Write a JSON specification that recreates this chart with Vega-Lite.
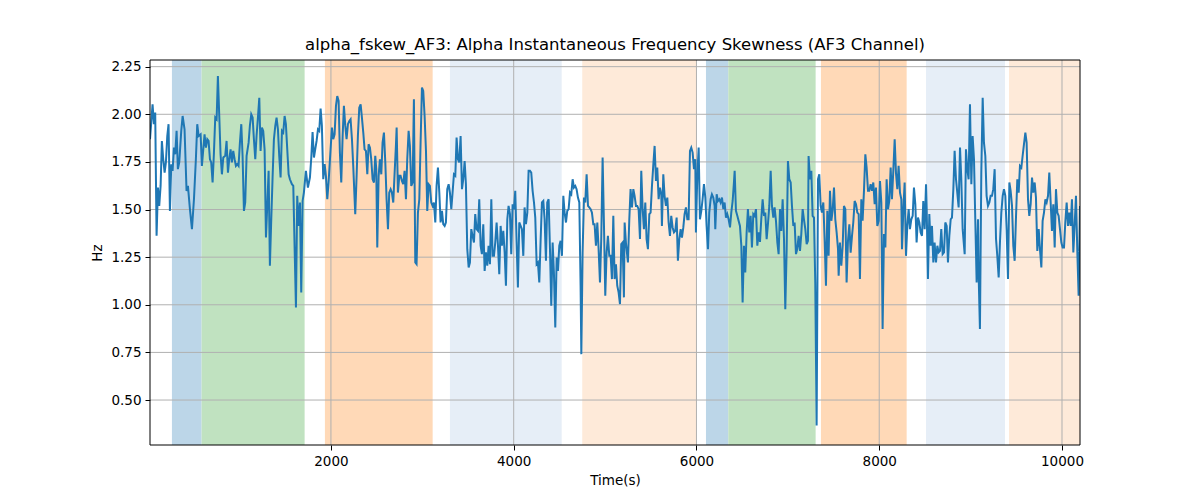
{
  "$schema": "https://vega.github.io/schema/vega-lite/v6.json",
  "width": 930,
  "height": 385,
  "autosize": "none",
  "padding": {"left": 150, "top": 60, "right": 120, "bottom": 55},
  "title": {
    "text": "alpha_fskew_AF3: Alpha Instantaneous Frequency Skewness (AF3 Channel)",
    "fontSize": 16.5,
    "fontWeight": "normal",
    "font": "DejaVu Sans",
    "color": "black",
    "offset": 6
  },
  "config": {
    "view": {"stroke": null},
    "axis": {
      "domain": false,
      "grid": false,
      "ticks": true,
      "tickColor": "black",
      "tickSize": 5,
      "tickWidth": 1,
      "labelFont": "DejaVu Sans",
      "labelFontSize": 13.5,
      "labelColor": "black",
      "labelPadding": 4,
      "titleFont": "DejaVu Sans",
      "titleFontSize": 13.5,
      "titleFontWeight": "normal",
      "titleColor": "black"
    }
  },
  "datasets": {
    "spans": [
      {"start": 260, "end": 585, "kind": "a"},
      {"start": 585, "end": 1712, "kind": "b"},
      {"start": 1934, "end": 3113, "kind": "c"},
      {"start": 3302, "end": 4525, "kind": "d"},
      {"start": 4750, "end": 6002, "kind": "e"},
      {"start": 6104, "end": 6348, "kind": "a"},
      {"start": 6348, "end": 7304, "kind": "b"},
      {"start": 7362, "end": 8300, "kind": "c"},
      {"start": 8512, "end": 9376, "kind": "d"},
      {"start": 9420, "end": 10197, "kind": "e"}
    ],
    "xgrid": [{"t": 2000}, {"t": 4000}, {"t": 6000}, {"t": 8000}, {"t": 10000}],
    "ygrid": [{"v": 0.5}, {"v": 0.75}, {"v": 1.0}, {"v": 1.25}, {"v": 1.5}, {"v": 1.75}, {"v": 2.0}, {"v": 2.25}],
    "series": [
      {"t":20,"v":1.869},{"t":48,"v":2.052},{"t":63,"v":1.948},{"t":77,"v":2.009},{"t":92,"v":1.362},{"t":107,"v":1.615},{"t":121,"v":1.519},{"t":136,"v":1.624},{"t":150,"v":1.860},{"t":165,"v":1.764},{"t":180,"v":1.694},{"t":194,"v":1.747},{"t":209,"v":1.886},{"t":223,"v":1.948},{"t":238,"v":1.493},{"t":253,"v":1.738},{"t":267,"v":1.703},{"t":282,"v":1.825},{"t":296,"v":1.790},{"t":311,"v":1.913},{"t":325,"v":1.712},{"t":340,"v":1.747},{"t":362,"v":1.913},{"t":377,"v":1.991},{"t":398,"v":1.921},{"t":420,"v":1.598},{"t":435,"v":1.624},{"t":457,"v":1.502},{"t":479,"v":1.397},{"t":501,"v":1.554},{"t":522,"v":1.764},{"t":537,"v":1.948},{"t":552,"v":1.886},{"t":574,"v":1.895},{"t":588,"v":1.729},{"t":603,"v":1.816},{"t":617,"v":1.895},{"t":632,"v":1.825},{"t":647,"v":1.869},{"t":661,"v":1.860},{"t":676,"v":1.764},{"t":690,"v":1.747},{"t":705,"v":1.642},{"t":719,"v":1.790},{"t":734,"v":1.983},{"t":749,"v":1.974},{"t":763,"v":2.201},{"t":778,"v":1.991},{"t":792,"v":1.790},{"t":807,"v":1.685},{"t":822,"v":1.773},{"t":843,"v":1.782},{"t":858,"v":1.860},{"t":873,"v":1.694},{"t":887,"v":1.764},{"t":902,"v":1.816},{"t":916,"v":1.747},{"t":931,"v":1.808},{"t":946,"v":1.764},{"t":960,"v":1.729},{"t":975,"v":1.738},{"t":989,"v":1.729},{"t":1004,"v":1.851},{"t":1019,"v":1.948},{"t":1033,"v":1.782},{"t":1048,"v":1.493},{"t":1062,"v":1.537},{"t":1077,"v":1.782},{"t":1099,"v":1.851},{"t":1113,"v":1.939},{"t":1128,"v":2.000},{"t":1143,"v":1.983},{"t":1157,"v":1.869},{"t":1172,"v":1.764},{"t":1186,"v":1.886},{"t":1201,"v":1.983},{"t":1216,"v":2.087},{"t":1230,"v":1.808},{"t":1245,"v":1.930},{"t":1259,"v":1.913},{"t":1274,"v":1.816},{"t":1289,"v":1.353},{"t":1303,"v":1.519},{"t":1318,"v":1.703},{"t":1332,"v":1.205},{"t":1347,"v":1.449},{"t":1362,"v":1.677},{"t":1376,"v":1.869},{"t":1391,"v":1.939},{"t":1405,"v":1.983},{"t":1420,"v":1.921},{"t":1434,"v":1.782},{"t":1449,"v":1.668},{"t":1464,"v":1.913},{"t":1478,"v":1.904},{"t":1493,"v":1.991},{"t":1507,"v":1.948},{"t":1522,"v":1.816},{"t":1537,"v":1.685},{"t":1551,"v":1.659},{"t":1573,"v":1.633},{"t":1588,"v":1.624},{"t":1602,"v":1.310},{"t":1617,"v":0.986},{"t":1631,"v":1.572},{"t":1646,"v":1.414},{"t":1661,"v":1.537},{"t":1675,"v":1.065},{"t":1690,"v":1.545},{"t":1704,"v":1.589},{"t":1726,"v":1.703},{"t":1748,"v":1.615},
      {"t":1770,"v":1.668},{"t":1785,"v":1.773},{"t":1799,"v":1.907},{"t":1814,"v":1.773},{"t":1828,"v":1.816},{"t":1843,"v":1.860},{"t":1858,"v":1.921},{"t":1872,"v":1.913},{"t":1887,"v":2.030},{"t":1901,"v":1.939},{"t":1916,"v":1.659},{"t":1931,"v":1.738},{"t":1945,"v":1.677},{"t":1960,"v":1.554},{"t":1974,"v":1.642},{"t":1996,"v":1.816},{"t":2011,"v":1.930},{"t":2025,"v":1.869},{"t":2040,"v":1.895},{"t":2055,"v":2.044},{"t":2069,"v":2.096},{"t":2084,"v":2.070},{"t":2098,"v":1.799},{"t":2113,"v":1.642},{"t":2128,"v":1.886},{"t":2142,"v":2.044},{"t":2157,"v":1.939},{"t":2171,"v":1.869},{"t":2186,"v":1.948},{"t":2201,"v":1.965},{"t":2215,"v":1.974},{"t":2230,"v":1.869},{"t":2244,"v":1.729},{"t":2266,"v":1.476},{"t":2281,"v":1.677},{"t":2295,"v":1.886},{"t":2310,"v":2.035},{"t":2325,"v":2.052},{"t":2339,"v":1.983},{"t":2354,"v":1.904},{"t":2368,"v":1.816},{"t":2383,"v":1.808},{"t":2398,"v":1.685},{"t":2412,"v":1.843},{"t":2427,"v":1.825},{"t":2441,"v":1.764},{"t":2456,"v":1.659},{"t":2471,"v":1.642},{"t":2485,"v":1.782},{"t":2496,"v":1.712},{"t":2507,"v":1.301},{"t":2522,"v":1.677},{"t":2536,"v":1.764},{"t":2551,"v":1.685},{"t":2565,"v":1.851},{"t":2580,"v":1.904},{"t":2595,"v":1.747},{"t":2609,"v":1.554},{"t":2624,"v":1.397},{"t":2638,"v":1.589},{"t":2653,"v":1.607},{"t":2667,"v":1.589},{"t":2682,"v":1.537},{"t":2697,"v":1.694},{"t":2711,"v":1.834},{"t":2719,"v":1.930},{"t":2733,"v":1.589},{"t":2748,"v":1.677},{"t":2762,"v":1.677},{"t":2777,"v":1.650},{"t":2791,"v":1.633},{"t":2806,"v":1.703},{"t":2821,"v":1.554},{"t":2835,"v":1.764},{"t":2850,"v":1.913},{"t":2864,"v":1.834},{"t":2879,"v":1.624},{"t":2894,"v":1.642},{"t":2908,"v":2.079},{"t":2923,"v":1.222},{"t":2937,"v":1.213},{"t":2952,"v":1.484},{"t":2967,"v":1.554},{"t":2981,"v":1.851},{"t":2996,"v":2.140},{"t":3010,"v":2.122},{"t":3025,"v":1.991},{"t":3040,"v":1.808},{"t":3054,"v":1.493},{"t":3069,"v":1.633},{"t":3083,"v":1.624},{"t":3098,"v":1.537},{"t":3113,"v":1.519},{"t":3127,"v":1.537},{"t":3142,"v":1.432},{"t":3156,"v":1.624},{"t":3171,"v":1.720},{"t":3186,"v":1.589},{"t":3200,"v":1.432},{"t":3215,"v":1.493},{"t":3229,"v":1.423},{"t":3244,"v":1.414},{"t":3258,"v":1.432},{"t":3273,"v":1.607},{"t":3288,"v":1.633},{"t":3302,"v":1.589},{"t":3317,"v":1.502},{"t":3331,"v":1.589},{"t":3346,"v":1.685},{"t":3361,"v":1.677},{"t":3375,"v":1.878},{"t":3390,"v":1.764},{"t":3404,"v":1.747},
      {"t":3419,"v":1.886},{"t":3434,"v":1.607},{"t":3448,"v":1.659},{"t":3463,"v":1.755},{"t":3477,"v":1.633},{"t":3492,"v":1.292},{"t":3507,"v":1.196},{"t":3521,"v":1.222},{"t":3536,"v":1.397},{"t":3550,"v":1.362},{"t":3565,"v":1.327},{"t":3579,"v":1.476},{"t":3594,"v":1.397},{"t":3609,"v":1.388},{"t":3623,"v":1.554},{"t":3638,"v":1.310},{"t":3652,"v":1.266},{"t":3667,"v":1.423},{"t":3682,"v":1.178},{"t":3696,"v":1.275},{"t":3711,"v":1.205},{"t":3725,"v":1.310},{"t":3740,"v":1.213},{"t":3755,"v":1.554},{"t":3769,"v":1.257},{"t":3784,"v":1.257},{"t":3798,"v":1.327},{"t":3813,"v":1.432},{"t":3828,"v":1.310},{"t":3842,"v":1.161},{"t":3857,"v":1.414},{"t":3871,"v":1.310},{"t":3886,"v":1.388},{"t":3901,"v":1.275},{"t":3915,"v":1.100},{"t":3930,"v":1.449},{"t":3944,"v":1.519},{"t":3959,"v":1.476},{"t":3973,"v":1.266},{"t":3988,"v":1.528},{"t":4003,"v":1.502},{"t":4017,"v":1.598},{"t":4032,"v":1.327},{"t":4046,"v":1.091},{"t":4061,"v":1.432},{"t":4076,"v":1.414},{"t":4090,"v":1.397},{"t":4105,"v":1.257},{"t":4119,"v":1.511},{"t":4134,"v":1.423},{"t":4149,"v":1.484},{"t":4163,"v":1.703},{"t":4178,"v":1.703},{"t":4192,"v":1.694},{"t":4207,"v":1.598},{"t":4222,"v":1.537},{"t":4236,"v":1.458},{"t":4251,"v":1.213},{"t":4265,"v":1.222},{"t":4280,"v":1.117},{"t":4295,"v":1.345},{"t":4309,"v":1.537},{"t":4324,"v":1.545},{"t":4338,"v":1.449},{"t":4353,"v":1.231},{"t":4367,"v":1.537},{"t":4382,"v":1.554},{"t":4397,"v":1.292},{"t":4411,"v":0.995},{"t":4426,"v":1.327},{"t":4440,"v":1.170},{"t":4455,"v":0.881},{"t":4470,"v":1.248},{"t":4484,"v":1.178},{"t":4499,"v":1.310},{"t":4513,"v":1.336},{"t":4528,"v":1.257},{"t":4543,"v":1.572},{"t":4557,"v":1.484},{"t":4572,"v":1.432},{"t":4586,"v":1.493},{"t":4601,"v":1.502},{"t":4616,"v":1.589},{"t":4630,"v":1.580},{"t":4645,"v":1.659},{"t":4659,"v":1.615},{"t":4674,"v":1.624},{"t":4688,"v":1.607},{"t":4703,"v":1.563},{"t":4718,"v":1.537},{"t":4732,"v":1.100},{"t":4740,"v":0.741},{"t":4754,"v":1.275},{"t":4769,"v":1.563},{"t":4783,"v":1.537},{"t":4798,"v":1.685},{"t":4813,"v":1.519},{"t":4827,"v":1.511},{"t":4842,"v":1.502},{"t":4856,"v":1.484},{"t":4871,"v":1.423},{"t":4885,"v":1.423},{"t":4900,"v":1.310},{"t":4915,"v":1.432},{"t":4929,"v":1.292},{"t":4944,"v":1.117},{"t":4958,"v":1.345},{"t":4973,"v":1.773},{"t":4988,"v":1.414},{"t":5002,"v":1.047},{"t":5017,"v":1.275},{"t":5031,"v":1.362},
      {"t":5046,"v":1.257},{"t":5061,"v":1.257},{"t":5075,"v":1.135},{"t":5090,"v":1.467},{"t":5104,"v":1.135},{"t":5119,"v":1.213},{"t":5133,"v":1.100},{"t":5148,"v":1.065},{"t":5163,"v":1.004},{"t":5177,"v":1.318},{"t":5192,"v":1.327},{"t":5206,"v":1.039},{"t":5214,"v":1.432},{"t":5228,"v":1.327},{"t":5250,"v":1.222},{"t":5265,"v":1.449},{"t":5279,"v":1.607},{"t":5294,"v":1.511},{"t":5309,"v":1.607},{"t":5323,"v":1.572},{"t":5338,"v":1.519},{"t":5352,"v":1.519},{"t":5367,"v":1.502},{"t":5382,"v":1.345},{"t":5396,"v":1.703},{"t":5411,"v":1.502},{"t":5425,"v":1.397},{"t":5440,"v":1.537},{"t":5454,"v":1.345},{"t":5469,"v":1.292},{"t":5484,"v":1.476},{"t":5498,"v":1.484},{"t":5513,"v":1.624},{"t":5527,"v":1.729},{"t":5542,"v":1.834},{"t":5557,"v":1.650},{"t":5571,"v":1.720},{"t":5586,"v":1.554},{"t":5600,"v":1.615},{"t":5615,"v":1.580},{"t":5622,"v":1.414},{"t":5637,"v":1.685},{"t":5651,"v":1.572},{"t":5666,"v":1.519},{"t":5681,"v":1.563},{"t":5695,"v":1.432},{"t":5710,"v":1.362},{"t":5724,"v":1.467},{"t":5739,"v":1.406},{"t":5754,"v":1.380},{"t":5768,"v":1.388},{"t":5783,"v":1.458},{"t":5797,"v":1.231},{"t":5812,"v":1.345},{"t":5827,"v":1.397},{"t":5841,"v":1.353},{"t":5856,"v":1.406},{"t":5870,"v":1.476},{"t":5885,"v":1.511},{"t":5900,"v":1.449},{"t":5914,"v":1.449},{"t":5929,"v":1.808},{"t":5943,"v":1.825},{"t":5958,"v":1.799},{"t":5973,"v":1.712},{"t":5987,"v":1.764},{"t":5994,"v":1.380},{"t":6009,"v":1.677},{"t":6024,"v":1.825},{"t":6038,"v":1.449},{"t":6053,"v":1.493},{"t":6067,"v":1.554},{"t":6082,"v":1.633},{"t":6097,"v":1.563},{"t":6111,"v":1.414},{"t":6126,"v":1.292},{"t":6140,"v":1.484},{"t":6155,"v":1.554},{"t":6169,"v":1.580},{"t":6184,"v":1.563},{"t":6199,"v":1.519},{"t":6206,"v":1.397},{"t":6221,"v":1.580},{"t":6235,"v":1.545},{"t":6250,"v":1.554},{"t":6264,"v":1.537},{"t":6279,"v":1.563},{"t":6294,"v":1.502},{"t":6308,"v":1.537},{"t":6323,"v":1.458},{"t":6337,"v":1.476},{"t":6352,"v":1.449},{"t":6367,"v":1.406},{"t":6381,"v":1.484},{"t":6396,"v":1.545},{"t":6410,"v":1.642},{"t":6418,"v":1.703},{"t":6432,"v":1.493},{"t":6447,"v":1.467},{"t":6461,"v":1.441},{"t":6476,"v":1.414},{"t":6491,"v":1.310},{"t":6505,"v":1.012},{"t":6520,"v":1.310},{"t":6534,"v":1.170},{"t":6549,"v":1.380},{"t":6563,"v":1.502},{"t":6578,"v":1.380},{"t":6593,"v":1.467},{"t":6607,"v":1.301},{"t":6622,"v":1.476},{"t":6636,"v":1.467},{"t":6651,"v":1.502},{"t":6666,"v":1.310},{"t":6680,"v":1.380},{"t":6695,"v":1.330},
      {"t":6709,"v":1.449},{"t":6724,"v":1.554},{"t":6739,"v":1.467},{"t":6753,"v":1.484},{"t":6768,"v":1.344},{"t":6782,"v":1.423},{"t":6797,"v":1.519},{"t":6812,"v":1.703},{"t":6826,"v":1.519},{"t":6841,"v":1.458},{"t":6855,"v":1.511},{"t":6870,"v":1.441},{"t":6885,"v":1.327},{"t":6899,"v":1.266},{"t":6914,"v":1.502},{"t":6928,"v":1.388},{"t":6943,"v":1.554},{"t":6958,"v":1.344},{"t":6972,"v":0.977},{"t":6987,"v":1.292},{"t":7001,"v":1.755},{"t":7016,"v":1.659},{"t":7031,"v":1.642},{"t":7045,"v":1.519},{"t":7060,"v":1.414},{"t":7074,"v":1.432},{"t":7089,"v":1.266},{"t":7103,"v":1.292},{"t":7118,"v":1.362},{"t":7133,"v":1.283},{"t":7147,"v":1.371},{"t":7162,"v":1.502},{"t":7176,"v":1.449},{"t":7191,"v":1.397},{"t":7206,"v":1.318},{"t":7220,"v":1.336},{"t":7227,"v":1.781},{"t":7242,"v":1.659},{"t":7257,"v":1.703},{"t":7271,"v":1.467},{"t":7286,"v":1.458},{"t":7300,"v":1.117},{"t":7315,"v":0.366},{"t":7330,"v":1.659},{"t":7344,"v":1.685},{"t":7359,"v":1.519},{"t":7373,"v":1.484},{"t":7388,"v":1.537},{"t":7403,"v":1.336},{"t":7417,"v":1.100},{"t":7432,"v":1.493},{"t":7446,"v":1.257},{"t":7461,"v":1.598},{"t":7476,"v":1.441},{"t":7490,"v":1.493},{"t":7505,"v":1.615},{"t":7519,"v":1.449},{"t":7534,"v":1.379},{"t":7549,"v":1.292},{"t":7556,"v":1.152},{"t":7570,"v":1.327},{"t":7585,"v":1.205},{"t":7600,"v":1.310},{"t":7614,"v":1.519},{"t":7629,"v":1.502},{"t":7643,"v":1.117},{"t":7658,"v":1.336},{"t":7673,"v":1.423},{"t":7687,"v":1.274},{"t":7702,"v":1.362},{"t":7716,"v":1.432},{"t":7731,"v":1.545},{"t":7746,"v":1.528},{"t":7760,"v":1.484},{"t":7775,"v":1.476},{"t":7789,"v":1.135},{"t":7804,"v":1.554},{"t":7818,"v":1.441},{"t":7833,"v":1.598},{"t":7848,"v":1.790},{"t":7862,"v":1.720},{"t":7877,"v":1.598},{"t":7891,"v":1.598},{"t":7906,"v":1.633},{"t":7921,"v":1.598},{"t":7935,"v":1.642},{"t":7950,"v":1.528},{"t":7964,"v":1.615},{"t":7979,"v":1.414},{"t":7994,"v":1.441},{"t":8008,"v":1.650},{"t":8023,"v":1.537},{"t":8037,"v":0.873},{"t":8052,"v":1.371},{"t":8067,"v":1.301},{"t":8081,"v":1.659},{"t":8096,"v":1.502},{"t":8110,"v":1.545},{"t":8125,"v":1.720},{"t":8139,"v":1.554},{"t":8154,"v":1.703},{"t":8169,"v":1.869},{"t":8183,"v":1.694},{"t":8198,"v":1.607},{"t":8212,"v":1.729},{"t":8227,"v":1.589},{"t":8242,"v":1.554},{"t":8249,"v":1.292},{"t":8264,"v":1.502},{"t":8278,"v":1.642},{"t":8293,"v":1.257},{"t":8307,"v":1.414},{"t":8322,"v":1.502},{"t":8336,"v":1.397},{"t":8351,"v":1.449},{"t":8366,"v":1.467},{"t":8380,"v":1.615},{"t":8395,"v":1.528},{"t":8409,"v":1.327},{"t":8424,"v":1.458},
      {"t":8439,"v":1.432},{"t":8453,"v":1.379},{"t":8468,"v":1.362},{"t":8482,"v":1.545},{"t":8497,"v":1.397},{"t":8512,"v":1.633},{"t":8519,"v":1.511},{"t":8533,"v":1.135},{"t":8548,"v":1.476},{"t":8563,"v":1.310},{"t":8577,"v":1.414},{"t":8592,"v":1.222},{"t":8606,"v":1.327},{"t":8621,"v":1.222},{"t":8636,"v":1.310},{"t":8650,"v":1.275},{"t":8665,"v":1.283},{"t":8679,"v":1.397},{"t":8694,"v":1.266},{"t":8709,"v":1.275},{"t":8723,"v":1.432},{"t":8738,"v":1.414},{"t":8752,"v":1.222},{"t":8767,"v":1.362},{"t":8782,"v":1.449},{"t":8796,"v":1.458},{"t":8811,"v":1.607},{"t":8825,"v":1.808},{"t":8840,"v":1.659},{"t":8854,"v":1.589},{"t":8869,"v":1.511},{"t":8884,"v":1.825},{"t":8898,"v":1.659},{"t":8913,"v":1.397},{"t":8935,"v":1.266},{"t":8949,"v":1.816},{"t":8964,"v":1.712},{"t":8978,"v":1.659},{"t":8993,"v":2.052},{"t":9008,"v":1.633},{"t":9022,"v":1.886},{"t":9037,"v":1.764},{"t":9051,"v":1.449},{"t":9066,"v":1.117},{"t":9081,"v":1.449},{"t":9088,"v":1.152},{"t":9102,"v":0.873},{"t":9117,"v":1.694},{"t":9132,"v":2.087},{"t":9146,"v":1.851},{"t":9161,"v":1.781},{"t":9175,"v":1.572},{"t":9190,"v":1.519},{"t":9205,"v":1.537},{"t":9219,"v":1.572},{"t":9234,"v":1.572},{"t":9248,"v":1.607},{"t":9263,"v":1.712},{"t":9278,"v":1.345},{"t":9292,"v":1.257},{"t":9307,"v":1.143},{"t":9321,"v":1.327},{"t":9336,"v":1.484},{"t":9351,"v":1.572},{"t":9365,"v":1.607},{"t":9380,"v":1.572},{"t":9394,"v":1.397},{"t":9409,"v":1.135},{"t":9424,"v":1.642},{"t":9438,"v":1.598},{"t":9453,"v":1.519},{"t":9467,"v":1.310},{"t":9482,"v":1.231},{"t":9497,"v":1.467},{"t":9511,"v":1.659},{"t":9526,"v":1.589},{"t":9540,"v":1.729},{"t":9555,"v":1.720},{"t":9569,"v":1.781},{"t":9584,"v":1.843},{"t":9599,"v":1.904},{"t":9613,"v":1.851},{"t":9628,"v":1.554},{"t":9642,"v":1.467},{"t":9657,"v":1.528},{"t":9672,"v":1.668},{"t":9686,"v":1.589},{"t":9701,"v":1.642},{"t":9715,"v":1.563},{"t":9730,"v":1.283},{"t":9745,"v":1.397},{"t":9759,"v":1.292},{"t":9774,"v":1.196},{"t":9788,"v":1.441},{"t":9803,"v":1.484},{"t":9818,"v":1.554},{"t":9832,"v":1.537},{"t":9847,"v":1.572},{"t":9861,"v":1.694},{"t":9876,"v":1.537},{"t":9890,"v":1.388},{"t":9905,"v":1.528},{"t":9920,"v":1.301},{"t":9934,"v":1.607},{"t":9949,"v":1.484},{"t":9963,"v":1.467},{"t":9978,"v":1.397},{"t":9993,"v":1.327},{"t":10007,"v":1.301},{"t":10022,"v":1.301},{"t":10036,"v":1.432},{"t":10051,"v":1.537},{"t":10066,"v":1.414},{"t":10080,"v":1.484},{"t":10095,"v":1.414},{"t":10109,"v":1.554},{"t":10124,"v":1.275},{"t":10138,"v":1.414},{"t":10153,"v":1.572},{"t":10168,"v":1.275},{"t":10182,"v":1.047},{"t":10197,"v":1.519}
    ]
  },
  "layer": [
    {
      "data": {"name": "spans"},
      "mark": {"type": "rect"},
      "encoding": {
        "x": {"field": "start", "type": "quantitative", "title": "Time(s)"},
        "x2": {"field": "end"},
        "color": {
          "field": "kind",
          "type": "nominal",
          "scale": {"domain": ["a", "b", "c", "d", "e"], "range": ["#bcd6e8", "#c0e2c0", "#ffd9b7", "#e6eef7", "#feead9"]},
          "legend": null
        }
      }
    },
    {
      "data": {"name": "xgrid"},
      "mark": {"type": "rule", "color": "#b0b0b0", "strokeWidth": 1},
      "encoding": {
        "x": {"field": "t", "type": "quantitative", "title": "Time(s)"}
      }
    },
    {
      "data": {"name": "ygrid"},
      "mark": {"type": "rule", "color": "#b0b0b0", "strokeWidth": 1},
      "encoding": {
        "y": {"field": "v", "type": "quantitative", "title": "Hz"}
      }
    },
    {
      "data": {"name": "series"},
      "mark": {"type": "line", "color": "#1f77b4", "strokeWidth": 2, "clip": true},
      "encoding": {
        "x": {
          "field": "t",
          "type": "quantitative",
          "title": "Time(s)",
          "scale": {"domain": [20, 10197], "nice": false, "zero": false},
          "axis": {"values": [2000, 4000, 6000, 8000, 10000], "format": "d", "titlePadding": 6}
        },
        "y": {
          "field": "v",
          "type": "quantitative",
          "title": "Hz",
          "scale": {"domain": [0.264, 2.285], "nice": false, "zero": false},
          "axis": {"values": [0.5, 0.75, 1.0, 1.25, 1.5, 1.75, 2.0, 2.25], "format": ".2f", "titlePadding": 6}
        }
      }
    },
    {
      "data": {"values": [{}]},
      "mark": {"type": "rect", "fill": null, "stroke": "black", "strokeWidth": 1},
      "encoding": {
        "x": {"datum": 20, "type": "quantitative"},
        "x2": {"datum": 10197},
        "y": {"datum": 0.264, "type": "quantitative"},
        "y2": {"datum": 2.285}
      }
    }
  ]
}
